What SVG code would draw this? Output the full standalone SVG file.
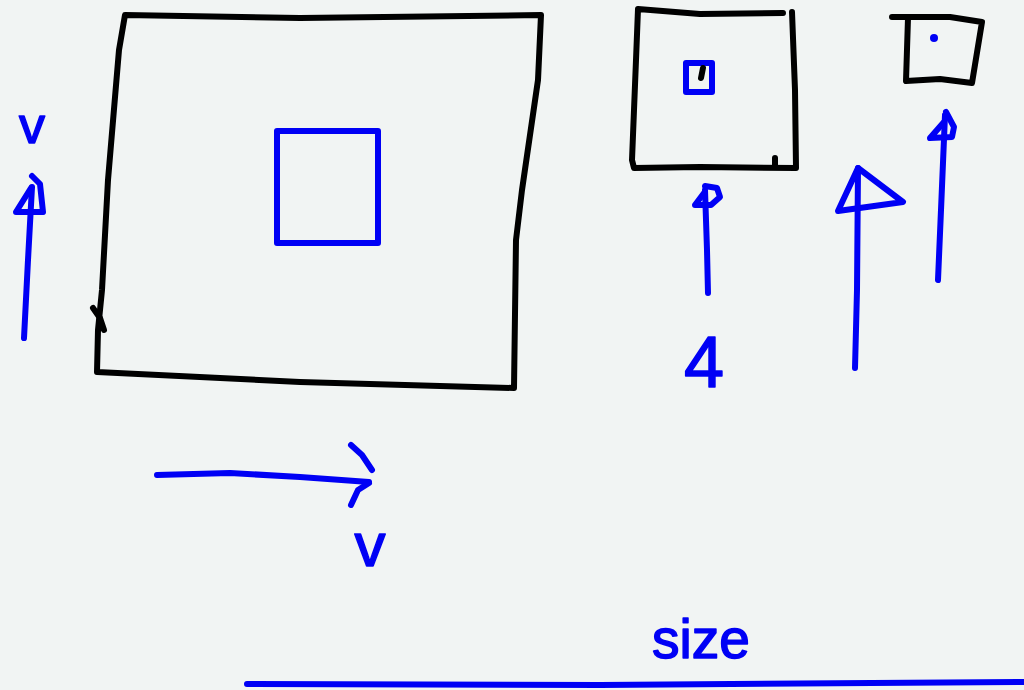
<svg xmlns="http://www.w3.org/2000/svg" width="1024" height="690" viewBox="0 0 1024 690">
<style>
.bk{fill:none;stroke:#000;stroke-width:6;stroke-linecap:round;stroke-linejoin:round}
.bl{fill:none;stroke:#0000f5;stroke-width:6;stroke-linecap:round;stroke-linejoin:round}
.lbl{font-family:"Liberation Sans",Arial,sans-serif;fill:#0000f5;stroke:#0000f5;stroke-width:1.5;stroke-linejoin:round;text-anchor:middle}
</style>
<rect width="1024" height="690" fill="#f1f4f3"/>
<g id="big-frame">
<path class="bk" d="M125,15 L300,18 L541,15 L538,80 L522,190 L516,240 L514,388 L300,382 L97,372 L98,330 L102,290 L108,180 L119,50 Z"/>
<path class="bk" d="M93,308 L100,318 L104,330"/>
<rect class="bl" x="277" y="131" width="101" height="112"/>
</g>
<g id="medium-frame">
<path class="bk" d="M783,13 L700,14 L638,9 L636,60 L632,160 L634,168 L700,167 L796,168 L795,90 L792,12"/>
<path class="bk" d="M775,158 L775,166"/>
<rect class="bl" x="686" y="63" width="26" height="29" stroke-width="7"/>
<path class="bk" d="M703,68 L701,78" stroke-width="4"/>
</g>
<g id="small-frame">
<path class="bk" d="M892,17 L950,17 L982,22 L972,83 L940,79 L906,81 L908,18"/>
<circle cx="934" cy="38" r="4" fill="#0000f5"/>
</g>
<g id="connectors">
<path class="bl" d="M24,338 L28,260 L32,187"/>
<path class="bl" d="M32,176 L40,184 L43,212 L16,212 L31,188"/>
<path class="bl" d="M708,293 L707,250 L705,190"/>
<path class="bl" d="M705,186 L717,188 L720,197 L711,205 L695,205 L704,193"/>
<path class="bl" d="M855,368 L857,290 L858,168"/>
<path class="bl" d="M858,168 L903,202 L838,211 Z"/>
<path class="bl" d="M938,280 L941,210 L945,115"/>
<path class="bl" d="M946,112 L954,127 L952,137 L930,138 L944,122"/>
<path class="bl" d="M157,475 L230,473 L300,477 L369,482"/>
<path class="bl" d="M351,445 L362,455 L372,470"/>
<path class="bl" d="M369,483 L358,490 L351,505"/>
<path class="bl" d="M247,684 L600,685 L1024,682"/>
</g>
<g id="labels">
<text class="lbl" x="32" y="143" font-size="52">v</text>
<text class="lbl" x="704" y="387" font-size="72">4</text>
<text class="lbl" x="370" y="566" font-size="62">v</text>
<text class="lbl" x="701" y="658" font-size="55">size</text>
</g>
</svg>
